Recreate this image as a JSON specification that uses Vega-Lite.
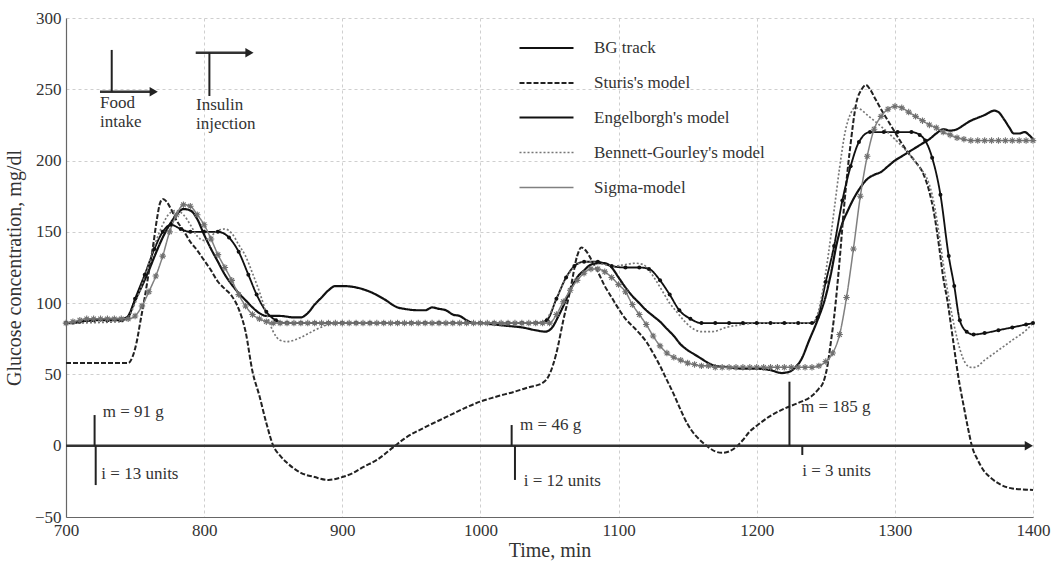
{
"$schema": "https://vega.github.io/schema/vega-lite/v6.json",
"width": 967, "height": 499,
"autosize": "none",
"padding": {"left": 66, "top": 18, "right": 26, "bottom": 46},
"background": "white",
"config": {
 "font": "Liberation Serif",
 "view": {"stroke": null},
 "axis": {"labelFont": "Liberation Serif", "labelFontSize": 17, "labelColor": "#333", "titleFont": "Liberation Serif", "titleFontSize": 20, "titleFontWeight": "normal", "titleColor": "#333", "gridColor": "#cfcfcf", "gridDash": [3,3], "gridWidth": 1, "domainColor": "#666", "domainWidth": 1.2, "ticks": false, "labelPadding": 5},
 "legend": {"orient": "none", "legendX": 452, "legendY": 15, "padding": 0, "symbolType": "M-1,0L3,0", "symbolSize": 729, "labelOffset": 46, "rowPadding": 12, "labelFont": "Liberation Serif", "labelFontSize": 17, "labelColor": "#333", "labelLimit": 400},
 "text": {"font": "Liberation Serif"}
},
"datasets": {
"curves": [
{"s":"BG track","t":700,"v":86},{"s":"BG track","t":705,"v":86},{"s":"BG track","t":710,"v":87},{"s":"BG track","t":720,"v":88},{"s":"BG track","t":730,"v":89},{"s":"BG track","t":740,"v":89},{"s":"BG track","t":744,"v":90},{"s":"BG track","t":750,"v":102},{"s":"BG track","t":755,"v":112},{"s":"BG track","t":760,"v":123},{"s":"BG track","t":765,"v":135},{"s":"BG track","t":770,"v":146},{"s":"BG track","t":775,"v":155},{"s":"BG track","t":780,"v":162},{"s":"BG track","t":785,"v":166},{"s":"BG track","t":790,"v":165},{"s":"BG track","t":795,"v":159},{"s":"BG track","t":800,"v":148},{"s":"BG track","t":805,"v":138},{"s":"BG track","t":810,"v":129},{"s":"BG track","t":815,"v":120},{"s":"BG track","t":820,"v":113},{"s":"BG track","t":826,"v":106},{"s":"BG track","t":830,"v":102},{"s":"BG track","t":835,"v":97},{"s":"BG track","t":840,"v":93},{"s":"BG track","t":845,"v":91},{"s":"BG track","t":855,"v":91},{"s":"BG track","t":865,"v":90},{"s":"BG track","t":870,"v":90},{"s":"BG track","t":875,"v":93},{"s":"BG track","t":880,"v":99},{"s":"BG track","t":885,"v":104},{"s":"BG track","t":890,"v":109},{"s":"BG track","t":895,"v":112},{"s":"BG track","t":900,"v":112},{"s":"BG track","t":910,"v":111},{"s":"BG track","t":920,"v":108},{"s":"BG track","t":930,"v":103},{"s":"BG track","t":940,"v":97},{"s":"BG track","t":945,"v":96},{"s":"BG track","t":955,"v":95},{"s":"BG track","t":960,"v":95},{"s":"BG track","t":965,"v":97},{"s":"BG track","t":970,"v":96},{"s":"BG track","t":975,"v":95},{"s":"BG track","t":980,"v":92},{"s":"BG track","t":985,"v":91},{"s":"BG track","t":990,"v":88},{"s":"BG track","t":995,"v":86},{"s":"BG track","t":1000,"v":86},{"s":"BG track","t":1010,"v":85},{"s":"BG track","t":1020,"v":84},{"s":"BG track","t":1030,"v":83},{"s":"BG track","t":1040,"v":81},{"s":"BG track","t":1047,"v":80},{"s":"BG track","t":1052,"v":83},{"s":"BG track","t":1056,"v":90},{"s":"BG track","t":1060,"v":98},{"s":"BG track","t":1065,"v":109},{"s":"BG track","t":1070,"v":118},{"s":"BG track","t":1075,"v":123},{"s":"BG track","t":1080,"v":127},{"s":"BG track","t":1085,"v":128},{"s":"BG track","t":1090,"v":128},{"s":"BG track","t":1095,"v":125},{"s":"BG track","t":1100,"v":118},{"s":"BG track","t":1105,"v":111},{"s":"BG track","t":1110,"v":105},{"s":"BG track","t":1115,"v":100},{"s":"BG track","t":1120,"v":95},{"s":"BG track","t":1125,"v":91},{"s":"BG track","t":1130,"v":87},{"s":"BG track","t":1135,"v":82},{"s":"BG track","t":1140,"v":77},{"s":"BG track","t":1145,"v":71},{"s":"BG track","t":1150,"v":67},{"s":"BG track","t":1155,"v":64},{"s":"BG track","t":1160,"v":61},{"s":"BG track","t":1165,"v":58},{"s":"BG track","t":1170,"v":56},{"s":"BG track","t":1180,"v":55},{"s":"BG track","t":1190,"v":54},{"s":"BG track","t":1200,"v":54},{"s":"BG track","t":1210,"v":53},{"s":"BG track","t":1218,"v":51},{"s":"BG track","t":1224,"v":52},{"s":"BG track","t":1228,"v":55},{"s":"BG track","t":1232,"v":60},{"s":"BG track","t":1238,"v":74},{"s":"BG track","t":1244,"v":88},{"s":"BG track","t":1250,"v":105},{"s":"BG track","t":1254,"v":122},{"s":"BG track","t":1258,"v":142},{"s":"BG track","t":1262,"v":156},{"s":"BG track","t":1266,"v":165},{"s":"BG track","t":1270,"v":173},{"s":"BG track","t":1275,"v":181},{"s":"BG track","t":1280,"v":187},{"s":"BG track","t":1285,"v":190},{"s":"BG track","t":1290,"v":192},{"s":"BG track","t":1295,"v":196},{"s":"BG track","t":1300,"v":200},{"s":"BG track","t":1305,"v":203},{"s":"BG track","t":1310,"v":206},{"s":"BG track","t":1315,"v":209},{"s":"BG track","t":1320,"v":212},{"s":"BG track","t":1325,"v":215},{"s":"BG track","t":1330,"v":219},{"s":"BG track","t":1335,"v":222},{"s":"BG track","t":1340,"v":221},{"s":"BG track","t":1345,"v":222},{"s":"BG track","t":1350,"v":225},{"s":"BG track","t":1355,"v":228},{"s":"BG track","t":1360,"v":230},{"s":"BG track","t":1365,"v":232},{"s":"BG track","t":1372,"v":235},{"s":"BG track","t":1375,"v":234},{"s":"BG track","t":1379,"v":229},{"s":"BG track","t":1383,"v":223},{"s":"BG track","t":1386,"v":219},{"s":"BG track","t":1390,"v":219},{"s":"BG track","t":1394,"v":220},{"s":"BG track","t":1397,"v":218},{"s":"BG track","t":1400,"v":215},
{"s":"Sturis's model","t":700,"v":58},{"s":"Sturis's model","t":745,"v":58},{"s":"Sturis's model","t":748,"v":62},{"s":"Sturis's model","t":751,"v":72},{"s":"Sturis's model","t":754,"v":88},{"s":"Sturis's model","t":757,"v":104},{"s":"Sturis's model","t":760,"v":122},{"s":"Sturis's model","t":763,"v":140},{"s":"Sturis's model","t":766,"v":160},{"s":"Sturis's model","t":768,"v":170},{"s":"Sturis's model","t":770,"v":173},{"s":"Sturis's model","t":773,"v":171},{"s":"Sturis's model","t":776,"v":166},{"s":"Sturis's model","t":780,"v":158},{"s":"Sturis's model","t":785,"v":151},{"s":"Sturis's model","t":790,"v":143},{"s":"Sturis's model","t":795,"v":137},{"s":"Sturis's model","t":800,"v":130},{"s":"Sturis's model","t":805,"v":123},{"s":"Sturis's model","t":810,"v":115},{"s":"Sturis's model","t":815,"v":110},{"s":"Sturis's model","t":820,"v":105},{"s":"Sturis's model","t":825,"v":96},{"s":"Sturis's model","t":830,"v":80},{"s":"Sturis's model","t":835,"v":52},{"s":"Sturis's model","t":840,"v":35},{"s":"Sturis's model","t":845,"v":16},{"s":"Sturis's model","t":850,"v":0},{"s":"Sturis's model","t":855,"v":-7},{"s":"Sturis's model","t":860,"v":-12},{"s":"Sturis's model","t":870,"v":-19},{"s":"Sturis's model","t":880,"v":-22},{"s":"Sturis's model","t":890,"v":-24},{"s":"Sturis's model","t":900,"v":-22},{"s":"Sturis's model","t":908,"v":-19},{"s":"Sturis's model","t":915,"v":-15},{"s":"Sturis's model","t":925,"v":-10},{"s":"Sturis's model","t":937,"v":-1},{"s":"Sturis's model","t":945,"v":5},{"s":"Sturis's model","t":960,"v":13},{"s":"Sturis's model","t":975,"v":20},{"s":"Sturis's model","t":990,"v":27},{"s":"Sturis's model","t":1000,"v":31},{"s":"Sturis's model","t":1010,"v":34},{"s":"Sturis's model","t":1025,"v":38},{"s":"Sturis's model","t":1035,"v":41},{"s":"Sturis's model","t":1045,"v":44},{"s":"Sturis's model","t":1050,"v":50},{"s":"Sturis's model","t":1055,"v":65},{"s":"Sturis's model","t":1060,"v":88},{"s":"Sturis's model","t":1065,"v":109},{"s":"Sturis's model","t":1070,"v":133},{"s":"Sturis's model","t":1073,"v":139},{"s":"Sturis's model","t":1077,"v":136},{"s":"Sturis's model","t":1080,"v":131},{"s":"Sturis's model","t":1085,"v":122},{"s":"Sturis's model","t":1090,"v":112},{"s":"Sturis's model","t":1095,"v":104},{"s":"Sturis's model","t":1100,"v":96},{"s":"Sturis's model","t":1105,"v":89},{"s":"Sturis's model","t":1110,"v":84},{"s":"Sturis's model","t":1115,"v":79},{"s":"Sturis's model","t":1120,"v":73},{"s":"Sturis's model","t":1125,"v":65},{"s":"Sturis's model","t":1130,"v":56},{"s":"Sturis's model","t":1135,"v":46},{"s":"Sturis's model","t":1140,"v":36},{"s":"Sturis's model","t":1145,"v":25},{"s":"Sturis's model","t":1150,"v":15},{"s":"Sturis's model","t":1155,"v":8},{"s":"Sturis's model","t":1160,"v":3},{"s":"Sturis's model","t":1165,"v":-1},{"s":"Sturis's model","t":1170,"v":-4},{"s":"Sturis's model","t":1175,"v":-5},{"s":"Sturis's model","t":1180,"v":-4},{"s":"Sturis's model","t":1185,"v":-1},{"s":"Sturis's model","t":1190,"v":4},{"s":"Sturis's model","t":1195,"v":10},{"s":"Sturis's model","t":1200,"v":14},{"s":"Sturis's model","t":1210,"v":21},{"s":"Sturis's model","t":1220,"v":26},{"s":"Sturis's model","t":1230,"v":30},{"s":"Sturis's model","t":1240,"v":35},{"s":"Sturis's model","t":1245,"v":40},{"s":"Sturis's model","t":1248,"v":44},{"s":"Sturis's model","t":1251,"v":55},{"s":"Sturis's model","t":1254,"v":75},{"s":"Sturis's model","t":1256,"v":90},{"s":"Sturis's model","t":1260,"v":130},{"s":"Sturis's model","t":1263,"v":165},{"s":"Sturis's model","t":1266,"v":195},{"s":"Sturis's model","t":1268,"v":212},{"s":"Sturis's model","t":1272,"v":240},{"s":"Sturis's model","t":1276,"v":250},{"s":"Sturis's model","t":1279,"v":253},{"s":"Sturis's model","t":1282,"v":250},{"s":"Sturis's model","t":1286,"v":243},{"s":"Sturis's model","t":1290,"v":236},{"s":"Sturis's model","t":1295,"v":228},{"s":"Sturis's model","t":1300,"v":220},{"s":"Sturis's model","t":1305,"v":212},{"s":"Sturis's model","t":1310,"v":205},{"s":"Sturis's model","t":1315,"v":199},{"s":"Sturis's model","t":1320,"v":192},{"s":"Sturis's model","t":1325,"v":178},{"s":"Sturis's model","t":1328,"v":165},{"s":"Sturis's model","t":1332,"v":140},{"s":"Sturis's model","t":1335,"v":118},{"s":"Sturis's model","t":1338,"v":102},{"s":"Sturis's model","t":1342,"v":75},{"s":"Sturis's model","t":1346,"v":48},{"s":"Sturis's model","t":1350,"v":27},{"s":"Sturis's model","t":1353,"v":12},{"s":"Sturis's model","t":1356,"v":-1},{"s":"Sturis's model","t":1360,"v":-10},{"s":"Sturis's model","t":1364,"v":-17},{"s":"Sturis's model","t":1370,"v":-23},{"s":"Sturis's model","t":1376,"v":-27},{"s":"Sturis's model","t":1385,"v":-30},{"s":"Sturis's model","t":1400,"v":-31},
{"s":"Engelborgh's model","t":700,"v":86},{"s":"Engelborgh's model","t":710,"v":87},{"s":"Engelborgh's model","t":720,"v":88},{"s":"Engelborgh's model","t":730,"v":88},{"s":"Engelborgh's model","t":740,"v":88},{"s":"Engelborgh's model","t":745,"v":90},{"s":"Engelborgh's model","t":750,"v":103},{"s":"Engelborgh's model","t":757,"v":120},{"s":"Engelborgh's model","t":764,"v":138},{"s":"Engelborgh's model","t":770,"v":150},{"s":"Engelborgh's model","t":776,"v":155},{"s":"Engelborgh's model","t":783,"v":152},{"s":"Engelborgh's model","t":790,"v":150},{"s":"Engelborgh's model","t":800,"v":150},{"s":"Engelborgh's model","t":810,"v":150},{"s":"Engelborgh's model","t":818,"v":146},{"s":"Engelborgh's model","t":825,"v":136},{"s":"Engelborgh's model","t":832,"v":120},{"s":"Engelborgh's model","t":838,"v":106},{"s":"Engelborgh's model","t":845,"v":94},{"s":"Engelborgh's model","t":852,"v":88},{"s":"Engelborgh's model","t":860,"v":86},{"s":"Engelborgh's model","t":870,"v":86},{"s":"Engelborgh's model","t":880,"v":86},{"s":"Engelborgh's model","t":890,"v":86},{"s":"Engelborgh's model","t":900,"v":86},{"s":"Engelborgh's model","t":910,"v":86},{"s":"Engelborgh's model","t":920,"v":86},{"s":"Engelborgh's model","t":930,"v":86},{"s":"Engelborgh's model","t":940,"v":86},{"s":"Engelborgh's model","t":950,"v":86},{"s":"Engelborgh's model","t":960,"v":86},{"s":"Engelborgh's model","t":970,"v":86},{"s":"Engelborgh's model","t":980,"v":86},{"s":"Engelborgh's model","t":990,"v":86},{"s":"Engelborgh's model","t":1000,"v":86},{"s":"Engelborgh's model","t":1010,"v":86},{"s":"Engelborgh's model","t":1020,"v":86},{"s":"Engelborgh's model","t":1030,"v":86},{"s":"Engelborgh's model","t":1040,"v":86},{"s":"Engelborgh's model","t":1048,"v":88},{"s":"Engelborgh's model","t":1055,"v":103},{"s":"Engelborgh's model","t":1062,"v":118},{"s":"Engelborgh's model","t":1068,"v":126},{"s":"Engelborgh's model","t":1075,"v":129},{"s":"Engelborgh's model","t":1085,"v":129},{"s":"Engelborgh's model","t":1095,"v":126},{"s":"Engelborgh's model","t":1105,"v":125},{"s":"Engelborgh's model","t":1115,"v":125},{"s":"Engelborgh's model","t":1122,"v":124},{"s":"Engelborgh's model","t":1130,"v":116},{"s":"Engelborgh's model","t":1137,"v":106},{"s":"Engelborgh's model","t":1144,"v":95},{"s":"Engelborgh's model","t":1152,"v":89},{"s":"Engelborgh's model","t":1160,"v":86},{"s":"Engelborgh's model","t":1170,"v":86},{"s":"Engelborgh's model","t":1180,"v":86},{"s":"Engelborgh's model","t":1190,"v":86},{"s":"Engelborgh's model","t":1200,"v":86},{"s":"Engelborgh's model","t":1210,"v":86},{"s":"Engelborgh's model","t":1220,"v":86},{"s":"Engelborgh's model","t":1230,"v":86},{"s":"Engelborgh's model","t":1240,"v":86},{"s":"Engelborgh's model","t":1244,"v":90},{"s":"Engelborgh's model","t":1250,"v":115},{"s":"Engelborgh's model","t":1256,"v":140},{"s":"Engelborgh's model","t":1262,"v":172},{"s":"Engelborgh's model","t":1268,"v":196},{"s":"Engelborgh's model","t":1274,"v":213},{"s":"Engelborgh's model","t":1282,"v":220},{"s":"Engelborgh's model","t":1292,"v":220},{"s":"Engelborgh's model","t":1302,"v":220},{"s":"Engelborgh's model","t":1312,"v":220},{"s":"Engelborgh's model","t":1318,"v":218},{"s":"Engelborgh's model","t":1322,"v":214},{"s":"Engelborgh's model","t":1327,"v":202},{"s":"Engelborgh's model","t":1333,"v":176},{"s":"Engelborgh's model","t":1339,"v":133},{"s":"Engelborgh's model","t":1343,"v":112},{"s":"Engelborgh's model","t":1347,"v":88},{"s":"Engelborgh's model","t":1352,"v":80},{"s":"Engelborgh's model","t":1357,"v":78},{"s":"Engelborgh's model","t":1365,"v":79},{"s":"Engelborgh's model","t":1375,"v":81},{"s":"Engelborgh's model","t":1385,"v":83},{"s":"Engelborgh's model","t":1395,"v":85},{"s":"Engelborgh's model","t":1400,"v":86},
{"s":"Bennett-Gourley's model","t":700,"v":86},{"s":"Bennett-Gourley's model","t":740,"v":87},{"s":"Bennett-Gourley's model","t":745,"v":90},{"s":"Bennett-Gourley's model","t":750,"v":100},{"s":"Bennett-Gourley's model","t":755,"v":113},{"s":"Bennett-Gourley's model","t":760,"v":128},{"s":"Bennett-Gourley's model","t":765,"v":143},{"s":"Bennett-Gourley's model","t":770,"v":155},{"s":"Bennett-Gourley's model","t":775,"v":163},{"s":"Bennett-Gourley's model","t":780,"v":165},{"s":"Bennett-Gourley's model","t":785,"v":162},{"s":"Bennett-Gourley's model","t":790,"v":155},{"s":"Bennett-Gourley's model","t":795,"v":147},{"s":"Bennett-Gourley's model","t":800,"v":144},{"s":"Bennett-Gourley's model","t":805,"v":147},{"s":"Bennett-Gourley's model","t":810,"v":151},{"s":"Bennett-Gourley's model","t":815,"v":152},{"s":"Bennett-Gourley's model","t":820,"v":149},{"s":"Bennett-Gourley's model","t":825,"v":141},{"s":"Bennett-Gourley's model","t":830,"v":133},{"s":"Bennett-Gourley's model","t":835,"v":121},{"s":"Bennett-Gourley's model","t":840,"v":108},{"s":"Bennett-Gourley's model","t":845,"v":93},{"s":"Bennett-Gourley's model","t":850,"v":80},{"s":"Bennett-Gourley's model","t":855,"v":74},{"s":"Bennett-Gourley's model","t":860,"v":73},{"s":"Bennett-Gourley's model","t":870,"v":76},{"s":"Bennett-Gourley's model","t":880,"v":81},{"s":"Bennett-Gourley's model","t":890,"v":85},{"s":"Bennett-Gourley's model","t":900,"v":86},{"s":"Bennett-Gourley's model","t":1040,"v":86},{"s":"Bennett-Gourley's model","t":1046,"v":87},{"s":"Bennett-Gourley's model","t":1050,"v":92},{"s":"Bennett-Gourley's model","t":1055,"v":103},{"s":"Bennett-Gourley's model","t":1060,"v":114},{"s":"Bennett-Gourley's model","t":1065,"v":122},{"s":"Bennett-Gourley's model","t":1070,"v":127},{"s":"Bennett-Gourley's model","t":1075,"v":129},{"s":"Bennett-Gourley's model","t":1080,"v":129},{"s":"Bennett-Gourley's model","t":1090,"v":127},{"s":"Bennett-Gourley's model","t":1096,"v":126},{"s":"Bennett-Gourley's model","t":1105,"v":127},{"s":"Bennett-Gourley's model","t":1112,"v":128},{"s":"Bennett-Gourley's model","t":1118,"v":127},{"s":"Bennett-Gourley's model","t":1122,"v":123},{"s":"Bennett-Gourley's model","t":1127,"v":116},{"s":"Bennett-Gourley's model","t":1132,"v":108},{"s":"Bennett-Gourley's model","t":1137,"v":100},{"s":"Bennett-Gourley's model","t":1142,"v":94},{"s":"Bennett-Gourley's model","t":1148,"v":87},{"s":"Bennett-Gourley's model","t":1154,"v":82},{"s":"Bennett-Gourley's model","t":1160,"v":80},{"s":"Bennett-Gourley's model","t":1168,"v":80},{"s":"Bennett-Gourley's model","t":1178,"v":83},{"s":"Bennett-Gourley's model","t":1190,"v":85},{"s":"Bennett-Gourley's model","t":1200,"v":86},{"s":"Bennett-Gourley's model","t":1240,"v":86},{"s":"Bennett-Gourley's model","t":1244,"v":92},{"s":"Bennett-Gourley's model","t":1248,"v":110},{"s":"Bennett-Gourley's model","t":1252,"v":135},{"s":"Bennett-Gourley's model","t":1256,"v":165},{"s":"Bennett-Gourley's model","t":1260,"v":195},{"s":"Bennett-Gourley's model","t":1264,"v":220},{"s":"Bennett-Gourley's model","t":1268,"v":233},{"s":"Bennett-Gourley's model","t":1271,"v":237},{"s":"Bennett-Gourley's model","t":1275,"v":236},{"s":"Bennett-Gourley's model","t":1280,"v":232},{"s":"Bennett-Gourley's model","t":1290,"v":224},{"s":"Bennett-Gourley's model","t":1300,"v":215},{"s":"Bennett-Gourley's model","t":1310,"v":205},{"s":"Bennett-Gourley's model","t":1318,"v":195},{"s":"Bennett-Gourley's model","t":1323,"v":188},{"s":"Bennett-Gourley's model","t":1327,"v":176},{"s":"Bennett-Gourley's model","t":1331,"v":155},{"s":"Bennett-Gourley's model","t":1335,"v":128},{"s":"Bennett-Gourley's model","t":1339,"v":104},{"s":"Bennett-Gourley's model","t":1343,"v":84},{"s":"Bennett-Gourley's model","t":1347,"v":68},{"s":"Bennett-Gourley's model","t":1351,"v":58},{"s":"Bennett-Gourley's model","t":1355,"v":55},{"s":"Bennett-Gourley's model","t":1358,"v":55},{"s":"Bennett-Gourley's model","t":1365,"v":60},{"s":"Bennett-Gourley's model","t":1375,"v":67},{"s":"Bennett-Gourley's model","t":1385,"v":74},{"s":"Bennett-Gourley's model","t":1395,"v":81},{"s":"Bennett-Gourley's model","t":1400,"v":86},
{"s":"Sigma-model","t":700,"v":86},{"s":"Sigma-model","t":705,"v":87},{"s":"Sigma-model","t":710,"v":88},{"s":"Sigma-model","t":715,"v":89},{"s":"Sigma-model","t":720,"v":89},{"s":"Sigma-model","t":725,"v":89},{"s":"Sigma-model","t":730,"v":89},{"s":"Sigma-model","t":735,"v":89},{"s":"Sigma-model","t":740,"v":89},{"s":"Sigma-model","t":745,"v":89},{"s":"Sigma-model","t":750,"v":91},{"s":"Sigma-model","t":755,"v":98},{"s":"Sigma-model","t":760,"v":108},{"s":"Sigma-model","t":765,"v":119},{"s":"Sigma-model","t":770,"v":133},{"s":"Sigma-model","t":775,"v":150},{"s":"Sigma-model","t":780,"v":162},{"s":"Sigma-model","t":785,"v":169},{"s":"Sigma-model","t":790,"v":168},{"s":"Sigma-model","t":795,"v":162},{"s":"Sigma-model","t":800,"v":155},{"s":"Sigma-model","t":805,"v":145},{"s":"Sigma-model","t":810,"v":134},{"s":"Sigma-model","t":815,"v":125},{"s":"Sigma-model","t":820,"v":116},{"s":"Sigma-model","t":825,"v":106},{"s":"Sigma-model","t":830,"v":98},{"s":"Sigma-model","t":835,"v":92},{"s":"Sigma-model","t":840,"v":89},{"s":"Sigma-model","t":845,"v":87},{"s":"Sigma-model","t":850,"v":86},{"s":"Sigma-model","t":855,"v":86},{"s":"Sigma-model","t":860,"v":86},{"s":"Sigma-model","t":865,"v":86},{"s":"Sigma-model","t":870,"v":86},{"s":"Sigma-model","t":875,"v":86},{"s":"Sigma-model","t":880,"v":86},{"s":"Sigma-model","t":885,"v":86},{"s":"Sigma-model","t":890,"v":86},{"s":"Sigma-model","t":895,"v":86},{"s":"Sigma-model","t":900,"v":86},{"s":"Sigma-model","t":905,"v":86},{"s":"Sigma-model","t":910,"v":86},{"s":"Sigma-model","t":915,"v":86},{"s":"Sigma-model","t":920,"v":86},{"s":"Sigma-model","t":925,"v":86},{"s":"Sigma-model","t":930,"v":86},{"s":"Sigma-model","t":935,"v":86},{"s":"Sigma-model","t":940,"v":86},{"s":"Sigma-model","t":945,"v":86},{"s":"Sigma-model","t":950,"v":86},{"s":"Sigma-model","t":955,"v":86},{"s":"Sigma-model","t":960,"v":86},{"s":"Sigma-model","t":965,"v":86},{"s":"Sigma-model","t":970,"v":86},{"s":"Sigma-model","t":975,"v":86},{"s":"Sigma-model","t":980,"v":86},{"s":"Sigma-model","t":985,"v":86},{"s":"Sigma-model","t":990,"v":86},{"s":"Sigma-model","t":995,"v":86},{"s":"Sigma-model","t":1000,"v":86},{"s":"Sigma-model","t":1005,"v":86},{"s":"Sigma-model","t":1010,"v":86},{"s":"Sigma-model","t":1015,"v":86},{"s":"Sigma-model","t":1020,"v":86},{"s":"Sigma-model","t":1025,"v":86},{"s":"Sigma-model","t":1030,"v":86},{"s":"Sigma-model","t":1035,"v":86},{"s":"Sigma-model","t":1040,"v":86},{"s":"Sigma-model","t":1045,"v":86},{"s":"Sigma-model","t":1050,"v":86},{"s":"Sigma-model","t":1055,"v":92},{"s":"Sigma-model","t":1060,"v":101},{"s":"Sigma-model","t":1065,"v":109},{"s":"Sigma-model","t":1070,"v":116},{"s":"Sigma-model","t":1075,"v":121},{"s":"Sigma-model","t":1080,"v":124},{"s":"Sigma-model","t":1085,"v":124},{"s":"Sigma-model","t":1090,"v":122},{"s":"Sigma-model","t":1095,"v":118},{"s":"Sigma-model","t":1100,"v":113},{"s":"Sigma-model","t":1105,"v":108},{"s":"Sigma-model","t":1110,"v":99},{"s":"Sigma-model","t":1115,"v":92},{"s":"Sigma-model","t":1120,"v":85},{"s":"Sigma-model","t":1125,"v":77},{"s":"Sigma-model","t":1130,"v":70},{"s":"Sigma-model","t":1135,"v":65},{"s":"Sigma-model","t":1140,"v":62},{"s":"Sigma-model","t":1145,"v":60},{"s":"Sigma-model","t":1150,"v":58},{"s":"Sigma-model","t":1155,"v":57},{"s":"Sigma-model","t":1160,"v":56},{"s":"Sigma-model","t":1165,"v":56},{"s":"Sigma-model","t":1170,"v":55},{"s":"Sigma-model","t":1175,"v":55},{"s":"Sigma-model","t":1180,"v":55},{"s":"Sigma-model","t":1185,"v":55},{"s":"Sigma-model","t":1190,"v":55},{"s":"Sigma-model","t":1195,"v":55},{"s":"Sigma-model","t":1200,"v":55},{"s":"Sigma-model","t":1205,"v":55},{"s":"Sigma-model","t":1210,"v":55},{"s":"Sigma-model","t":1215,"v":55},{"s":"Sigma-model","t":1220,"v":55},{"s":"Sigma-model","t":1225,"v":55},{"s":"Sigma-model","t":1230,"v":55},{"s":"Sigma-model","t":1235,"v":55},{"s":"Sigma-model","t":1240,"v":55},{"s":"Sigma-model","t":1245,"v":56},{"s":"Sigma-model","t":1250,"v":59},{"s":"Sigma-model","t":1255,"v":65},{"s":"Sigma-model","t":1260,"v":78},{"s":"Sigma-model","t":1265,"v":104},{"s":"Sigma-model","t":1270,"v":138},{"s":"Sigma-model","t":1275,"v":175},{"s":"Sigma-model","t":1280,"v":203},{"s":"Sigma-model","t":1285,"v":222},{"s":"Sigma-model","t":1290,"v":231},{"s":"Sigma-model","t":1295,"v":236},{"s":"Sigma-model","t":1300,"v":238},{"s":"Sigma-model","t":1305,"v":237},{"s":"Sigma-model","t":1310,"v":234},{"s":"Sigma-model","t":1315,"v":231},{"s":"Sigma-model","t":1320,"v":228},{"s":"Sigma-model","t":1325,"v":225},{"s":"Sigma-model","t":1330,"v":223},{"s":"Sigma-model","t":1335,"v":220},{"s":"Sigma-model","t":1340,"v":218},{"s":"Sigma-model","t":1345,"v":216},{"s":"Sigma-model","t":1350,"v":215},{"s":"Sigma-model","t":1355,"v":214},{"s":"Sigma-model","t":1360,"v":214},{"s":"Sigma-model","t":1365,"v":214},{"s":"Sigma-model","t":1370,"v":214},{"s":"Sigma-model","t":1375,"v":214},{"s":"Sigma-model","t":1380,"v":214},{"s":"Sigma-model","t":1385,"v":214},{"s":"Sigma-model","t":1390,"v":214},{"s":"Sigma-model","t":1395,"v":214},{"s":"Sigma-model","t":1400,"v":214}
],
"bars": [
{"t":720.7,"a":0,"b":21.5},{"t":721.5,"a":0,"b":-27.6},{"t":1022.6,"a":0,"b":14.5},{"t":1025,"a":0,"b":-24},{"t":1223.7,"a":0,"b":44.9},{"t":1233,"a":0,"b":-6.5},{"t":733.1,"a":248.3,"b":277.6},{"t":803.8,"a":245.3,"b":275.7}
],
"hlines": [
{"t1":700,"t2":1397,"v":0},{"t1":724.6,"t2":764,"v":248.3},{"t1":793.9,"t2":833,"v":275.7}
],
"heads": [
{"t":1397,"v":0},{"t":763.5,"v":248.3},{"t":832.8,"v":275.7}
],
"notes": [
{"t":726.6,"v":23.9,"label":"m = 91 g"},{"t":725.6,"v":-19.5,"label":"i = 13 units"},{"t":1028.7,"v":14.5,"label":"m = 46 g"},{"t":1031.4,"v":-25,"label":"i = 12 units"},{"t":1232,"v":27.2,"label":"m = 185 g"},{"t":1233,"v":-17.7,"label":"i = 3 units"},{"t":724.6,"v":240.4,"label":"Food"},{"t":724.6,"v":226.8,"label":"intake"},{"t":794.1,"v":239,"label":"Insulin"},{"t":794.1,"v":225.4,"label":"injection"}
]
},
"layer": [
{
 "data": {"name": "curves"},
 "mark": {"type": "line", "interpolate": "monotone"},
 "encoding": {
  "x": {"field": "t", "type": "quantitative", "scale": {"domain": [700,1400], "nice": false, "zero": false},
        "axis": {"title": "Time, min", "format": "d", "labelFont": "Liberation Serif", "titleFont": "Liberation Serif", "values": [700,800,900,1000,1100,1200,1300,1400], "labelFlush": false, "titlePadding": 2, "grid": true}},
  "y": {"field": "v", "type": "quantitative", "scale": {"domain": [-50,300], "nice": false, "zero": false},
        "axis": {"title": "Glucose concentration, mg/dl", "format": "d", "labelFont": "Liberation Serif", "titleFont": "Liberation Serif", "values": [-50,0,50,100,150,200,250,300], "titlePadding": 10, "grid": true}},
  "stroke": {"field": "s", "type": "nominal", "title": null,
    "scale": {"domain": ["BG track","Sturis's model","Engelborgh's model","Bennett-Gourley's model","Sigma-model"], "range": ["#111","#222","#111","#777","#808080"]}},
  "strokeDash": {"field": "s", "type": "nominal", "title": null,
    "scale": {"domain": ["BG track","Sturis's model","Engelborgh's model","Bennett-Gourley's model","Sigma-model"], "range": [[1,0],[5,2],[1,0],[2,2],[1,0]]}},
  "strokeWidth": {"field": "s", "type": "nominal", "title": null,
    "scale": {"domain": ["BG track","Sturis's model","Engelborgh's model","Bennett-Gourley's model","Sigma-model"], "range": [2.2,1.5,1.6,1,1.2]}}
 }
},
{
 "data": {"name": "curves"},
 "transform": [{"filter": {"field": "s", "equal": "Engelborgh's model"}}],
 "mark": {"type": "point", "filled": true, "color": "#111", "size": 16, "opacity": 1},
 "encoding": {"x": {"field": "t", "type": "quantitative"}, "y": {"field": "v", "type": "quantitative"}}
},
{
 "data": {"name": "curves"},
 "transform": [{"filter": {"field": "s", "equal": "Sigma-model"}}],
 "mark": {"type": "point", "filled": false, "stroke": "#707070", "strokeWidth": 1.1, "size": 42, "opacity": 1, "shape": "M-1,0L1,0M0,-1L0,1M-0.7,-0.7L0.7,0.7M-0.7,0.7L0.7,-0.7"},
 "encoding": {"x": {"field": "t", "type": "quantitative"}, "y": {"field": "v", "type": "quantitative"}}
},
{
 "data": {"name": "hlines"},
 "mark": {"type": "rule", "color": "#333", "strokeWidth": 2.5},
 "encoding": {"x": {"field": "t1", "type": "quantitative"}, "x2": {"field": "t2"}, "y": {"field": "v", "type": "quantitative"}}
},
{
 "data": {"name": "bars"},
 "mark": {"type": "rule", "color": "#222", "strokeWidth": 2},
 "encoding": {"x": {"field": "t", "type": "quantitative"}, "y": {"field": "a", "type": "quantitative"}, "y2": {"field": "b"}}
},
{
 "data": {"name": "heads"},
 "mark": {"type": "point", "shape": "triangle-right", "filled": true, "color": "#222", "size": 90, "opacity": 1},
 "encoding": {"x": {"field": "t", "type": "quantitative"}, "y": {"field": "v", "type": "quantitative"}}
},
{
 "data": {"name": "notes"},
 "mark": {"type": "text", "align": "left", "baseline": "middle", "font": "Liberation Serif", "fontSize": 17, "color": "#333"},
 "encoding": {"x": {"field": "t", "type": "quantitative"}, "y": {"field": "v", "type": "quantitative"}, "text": {"field": "label"}}
}
]
}
